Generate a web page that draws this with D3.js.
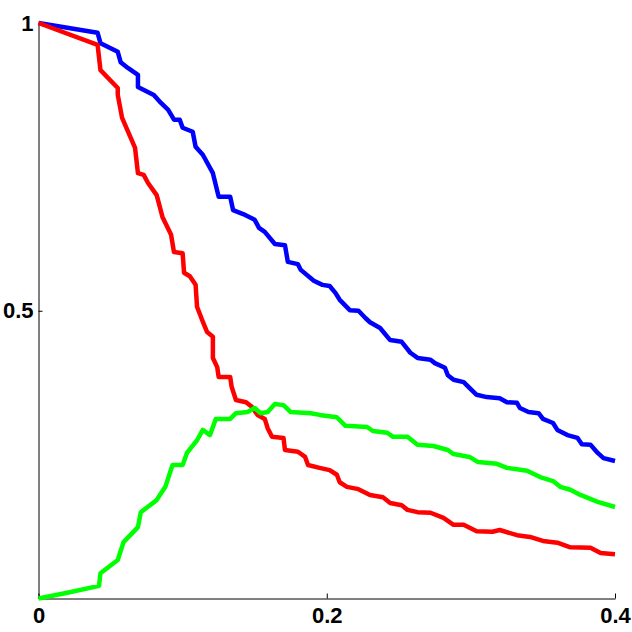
<!DOCTYPE html>
<html>
<head>
<meta charset="utf-8">
<script src="https://cdn.jsdelivr.net/npm/d3@7"></script>
<style>
  html, body { margin: 0; padding: 0; background: #fff; }
  svg { display: block; }
</style>
</head>
<body>
<script>
// ---- data ----
const blueX = [0,0.041,0.043,0.055,0.057,0.062,0.069,0.069,0.080,0.085,0.090,0.094,0.098,0.100,0.107,0.109,0.114,0.121,0.125,0.133,0.135,0.142,0.150,0.153,0.157,0.164,0.171,0.173,0.180,0.182,0.191,0.197,0.202,0.206,0.209,0.216,0.222,0.227,0.230,0.237,0.244,0.252,0.258,0.263,0.272,0.275,0.282,0.284,0.288,0.295,0.299,0.304,0.311,0.320,0.325,0.332,0.334,0.340,0.347,0.350,0.357,0.360,0.367,0.374,0.377,0.383,0.388,0.392,0.400];
const blueY = [1.000,0.983,0.965,0.950,0.932,0.922,0.910,0.889,0.875,0.861,0.849,0.832,0.832,0.818,0.811,0.785,0.771,0.739,0.698,0.698,0.675,0.668,0.658,0.644,0.637,0.616,0.614,0.585,0.581,0.571,0.552,0.545,0.543,0.531,0.519,0.501,0.500,0.487,0.480,0.470,0.449,0.446,0.427,0.418,0.415,0.409,0.401,0.388,0.380,0.376,0.366,0.354,0.350,0.348,0.341,0.340,0.331,0.324,0.322,0.312,0.305,0.293,0.284,0.279,0.268,0.267,0.253,0.244,0.239];

const redX = [0,0.041,0.043,0.055,0.055,0.058,0.067,0.069,0.073,0.076,0.082,0.086,0.092,0.094,0.100,0.101,0.105,0.109,0.110,0.114,0.117,0.121,0.121,0.124,0.125,0.133,0.134,0.137,0.144,0.148,0.152,0.157,0.159,0.162,0.170,0.171,0.180,0.185,0.187,0.195,0.202,0.207,0.209,0.214,0.222,0.230,0.239,0.244,0.252,0.256,0.263,0.272,0.281,0.288,0.295,0.304,0.315,0.320,0.332,0.341,0.350,0.360,0.369,0.383,0.390,0.400];
const redY = [1.000,0.962,0.918,0.887,0.875,0.835,0.783,0.739,0.736,0.722,0.701,0.663,0.632,0.602,0.600,0.566,0.560,0.545,0.507,0.481,0.463,0.455,0.418,0.402,0.385,0.385,0.368,0.345,0.341,0.333,0.319,0.312,0.296,0.281,0.279,0.258,0.255,0.246,0.232,0.227,0.223,0.215,0.202,0.194,0.190,0.180,0.176,0.166,0.162,0.154,0.150,0.149,0.140,0.128,0.128,0.117,0.116,0.119,0.110,0.107,0.100,0.097,0.089,0.088,0.079,0.077];

const greenX = [0,0.020,0.042,0.043,0.055,0.059,0.069,0.071,0.082,0.088,0.093,0.100,0.103,0.110,0.114,0.119,0.123,0.133,0.137,0.145,0.150,0.154,0.159,0.164,0.170,0.175,0.189,0.195,0.207,0.213,0.228,0.232,0.242,0.246,0.256,0.263,0.274,0.284,0.288,0.299,0.305,0.318,0.325,0.339,0.348,0.357,0.362,0.369,0.376,0.388,0.400];
const greenY = [0.000,0.010,0.022,0.044,0.067,0.098,0.124,0.150,0.171,0.194,0.232,0.232,0.253,0.275,0.293,0.284,0.312,0.312,0.322,0.324,0.331,0.322,0.324,0.338,0.336,0.324,0.322,0.319,0.315,0.300,0.298,0.291,0.288,0.281,0.281,0.267,0.265,0.258,0.251,0.246,0.237,0.234,0.227,0.222,0.211,0.204,0.194,0.189,0.180,0.168,0.159];

const xTicks = [0, 0.2, 0.4];
const xTickLabels = ["0", "0.2", "0.4"];
const yTicks = [0.5, 1];
const yTickLabels = ["0.5", "1"];

const seriesList = [
  { name: "blue",  xs: blueX,  ys: blueY,  color: "#0000ff" },
  { name: "red",   xs: redX,   ys: redY,   color: "#ff0000" },
  { name: "green", xs: greenX, ys: greenY, color: "#00ff00" }
];

// ---- drawing ----
const W = 632, H = 632;
const svg = d3.select("body").append("svg").attr("width", W).attr("height", H);

const x = d3.scaleLinear().domain([0, 0.4]).range([38.5, 615]);
const y = d3.scaleLinear().domain([0, 1]).range([598.5, 23]);

const font = "'Liberation Sans', Arial, Helvetica, sans-serif";

const gx = svg.append("g").attr("transform", `translate(0,${y(0)})`)
  .call(d3.axisBottom(x).tickValues(xTicks).tickFormat((d, i) => xTickLabels[i])
        .tickSizeInner(-5).tickSizeOuter(0).tickPadding(9));
const gy = svg.append("g").attr("transform", `translate(${x(0)},0)`)
  .call(d3.axisLeft(y).tickValues(yTicks).tickFormat((d, i) => yTickLabels[i])
        .tickSizeInner(-4).tickSizeOuter(0).tickPadding(5));

[gx, gy].forEach(g => {
  g.attr("font-size", null).attr("font-family", null);
  g.selectAll("path.domain").attr("stroke", "#000").attr("stroke-width", 1);
  g.selectAll(".tick line").attr("stroke", "#000").attr("stroke-width", 1);
  g.selectAll(".tick text").attr("fill", "#000")
    .attr("font-family", font).attr("font-size", 22).attr("font-weight", "bold");
});
// no tick mark at the top end of the y axis — keep label only
gy.selectAll(".tick").filter(d => d === 1).select("line").remove();

const line = d3.line().x(d => x(d[0])).y(d => y(d[1]));

seriesList.forEach(s => {
  const pts = s.xs.map((v, i) => [v, s.ys[i]]);
  svg.append("path")
    .datum(pts)
    .attr("d", line)
    .attr("fill", "none")
    .attr("stroke", s.color)
    .attr("stroke-width", 4.5)
    .attr("stroke-linejoin", "round")
    .attr("stroke-linecap", "butt");
});
</script>
</body>
</html>
